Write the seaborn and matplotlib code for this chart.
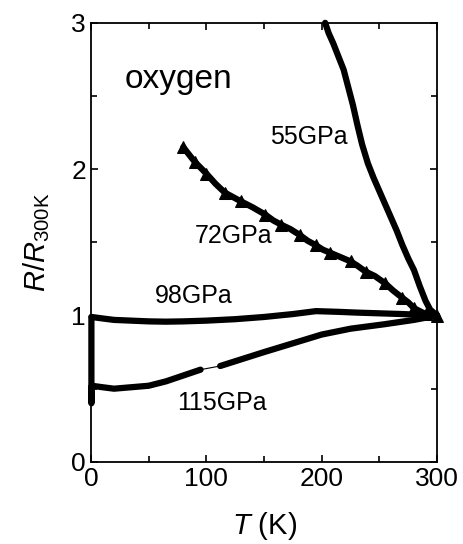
import matplotlib
matplotlib.use("Agg")
import matplotlib.pyplot as plt
import seaborn as sns

# R/R300K vs T for solid oxygen at several pressures
t_55 = [203, 206, 210, 215, 219, 223, 227, 231, 235, 240, 245, 250, 255, 260, 265, 270, 275, 280, 285, 290, 294, 300]
r_55 = [3.00, 2.93, 2.86, 2.76, 2.68, 2.56, 2.44, 2.30, 2.17, 2.04, 1.94, 1.85, 1.76, 1.67, 1.58, 1.48, 1.39, 1.31, 1.20, 1.10, 1.04, 1.00]

t_72 = [80, 85, 90, 95, 100, 108, 116, 123, 130, 140, 151, 158, 165, 173, 181, 188, 195, 201, 207, 216, 225, 231, 238, 246, 255, 262, 270, 275, 280, 285, 290, 295, 300]
r_72 = [2.15, 2.10, 2.05, 2.01, 1.97, 1.90, 1.84, 1.81, 1.78, 1.74, 1.69, 1.65, 1.62, 1.59, 1.55, 1.51, 1.48, 1.45, 1.43, 1.40, 1.37, 1.34, 1.30, 1.27, 1.22, 1.17, 1.12, 1.09, 1.05, 1.03, 1.01, 1.00, 1.00]

t_98 = [0.5, 10, 20, 35, 50, 65, 80, 100, 125, 150, 175, 195, 215, 230, 250, 270, 285, 300]
r_98 = [0.99, 0.98, 0.97, 0.965, 0.96, 0.958, 0.96, 0.965, 0.975, 0.99, 1.01, 1.03, 1.025, 1.02, 1.015, 1.01, 1.005, 1.00]

t_115a = [0.4, 0.4, 0.8, 10, 20, 35, 50, 65, 80, 95]
r_115a = [0.99, 0.40, 0.52, 0.51, 0.50, 0.51, 0.52, 0.55, 0.59, 0.63]
t_115b = [112, 130, 150, 175, 200, 225, 254, 280, 300]
r_115b = [0.655, 0.70, 0.75, 0.81, 0.87, 0.91, 0.94, 0.97, 1.00]

labels = ["oxygen", "55GPa", "72GPa", "98GPa", "115GPa"]
label_t = [29, 155, 90, 55, 75]
label_r = [2.61, 2.22, 1.54, 1.13, 0.40]
label_size = [24, 18, 18, 18, 18]

sns.set_theme(style="ticks")
plt.rcParams["font.family"] = ["Liberation Sans", "DejaVu Sans"]
plt.rcParams["mathtext.fontset"] = "custom"
plt.rcParams["mathtext.rm"] = "Liberation Sans"
plt.rcParams["mathtext.it"] = "Liberation Sans:italic"

fig = plt.figure(figsize=(4.64, 5.44), dpi=100)
ax = fig.add_axes([0.196, 0.151, 0.746, 0.807])

kw = dict(color="black", linewidth=4.5, sort=False, estimator=None, ax=ax, legend=False)
sns.lineplot(x=t_55, y=r_55, **kw)
sns.lineplot(x=t_72, y=r_72, marker="^", markersize=9, markeredgecolor="black",
             markevery=2, **kw)
sns.lineplot(x=t_98, y=r_98, **kw)
sns.lineplot(x=t_115a, y=r_115a, **kw)
sns.lineplot(x=t_115b, y=r_115b, **kw)
# thin connector over the gap in the 115GPa trace
sns.lineplot(x=[t_115a[-1], t_115b[0]], y=[r_115a[-1], r_115b[0]], color="black",
             linewidth=0.8, ax=ax, legend=False)
for line in ax.lines:
    line.set_clip_on(False)

for txt, x, y, s in zip(labels, label_t, label_r, label_size):
    ax.text(x, y, txt, fontsize=s, ha="left", va="center", color="black")

ax.set_xlim(0, 300)
ax.set_ylim(0, 3)
ax.set_xticks([0, 100, 200, 300])
ax.set_xticks([50, 150, 250], minor=True)
ax.set_yticks([0, 1, 2, 3])
ax.set_yticks([0.5, 1.5, 2.5], minor=True)
ax.tick_params(which="both", direction="in", top=True, right=True, labelsize=19,
               width=1.2, color="black", labelcolor="black")
ax.tick_params(which="major", length=5)
ax.tick_params(which="minor", length=4)
for sp in ax.spines.values():
    sp.set_linewidth(1.3)
    sp.set_color("black")

ax.set_xlabel("$T$ (K)", fontsize=21, labelpad=14, color="black")
ax.set_ylabel("$R$/$R_{\\mathrm{300K}}$", fontsize=21, labelpad=14, color="black")

fig.savefig("out.png", dpi=100, facecolor="white")
